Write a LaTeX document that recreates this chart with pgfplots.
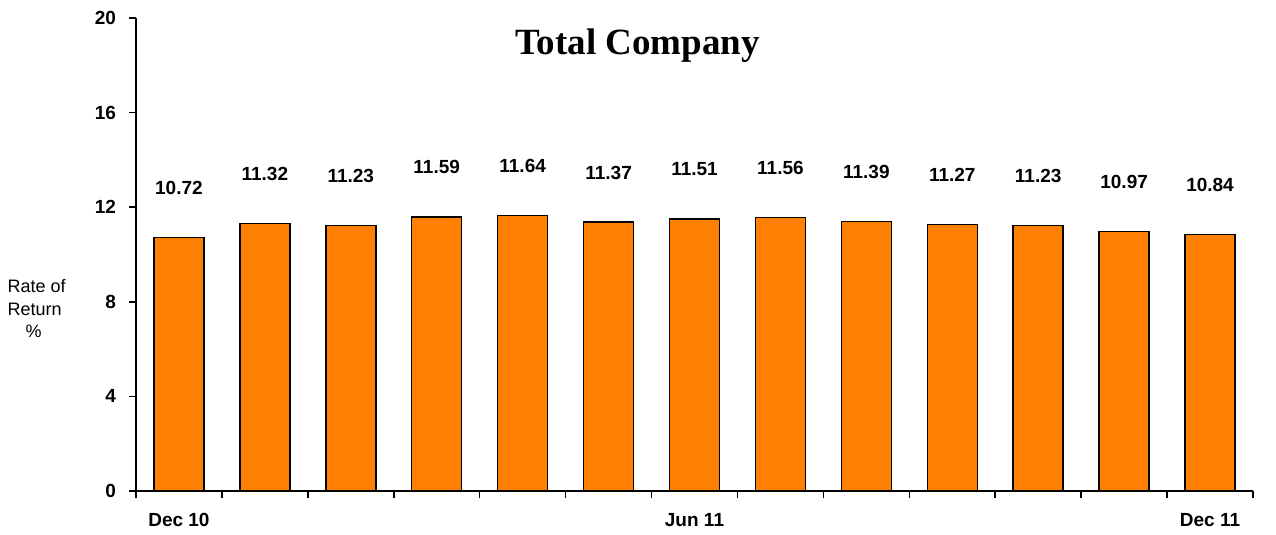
\documentclass[border=0pt]{standalone}
\usepackage{pgfplots}
\pgfplotsset{compat=1.18}
\usepackage{fontspec}
\setmainfont{Liberation Sans}
\newfontfamily\titlefont{Liberation Serif}
\definecolor{baror}{RGB}{255,128,0}

\begin{document}
\begin{tikzpicture}
\begin{axis}[
    scale only axis,
    width=558.5pt, height=236.5pt,
    xmin=-0.5, xmax=12.5,
    ymin=0, ymax=20,
    axis lines=left,
    axis line style={-, line width=1pt},
    tick align=outside,
    major tick length=3.5pt,
    minor tick length=3.5pt,
    tick style={black, line width=0.8pt},
    ytick={0,4,...,20},
    xtick={0,6,12},
    xticklabels={Dec 10, Jun 11, Dec 11},
    minor xtick={-0.5,0.5,...,12.5},
    x tick style={draw=none},
    minor x tick style={draw=black, line width=0.8pt},
    /pgf/number format/assume math mode=true,
    ticklabel style={font=\fontsize{9.5}{11}\selectfont\bfseries},
    yticklabel style={xshift=-3pt},
    xticklabel style={yshift=-4pt},
    title={Total Company},
    title style={font=\titlefont\fontsize{18.5}{20}\selectfont\bfseries,
        at={(axis description cs:0.449,0.917)}, anchor=center},
    ylabel={Rate of\\Return\\\hspace*{9pt}\%},
    ylabel style={rotate=-90, align=left, font=\fontsize{9}{11.25}\selectfont,
        at={(axis description cs:-0.089,0.385)}, anchor=center},
    ybar, bar width=25pt,
    nodes near coords,
    every node near coord/.append style={
        font=\fontsize{9.5}{11}\selectfont\bfseries,
        /pgf/number format/fixed,
        /pgf/number format/fixed zerofill,
        /pgf/number format/precision=2,
        /pgf/number format/assume math mode=true,
        anchor=south, inner sep=0pt, yshift=21pt},
]
\addplot[fill=baror, draw=black, line width=0.75pt] coordinates {
    (0,10.72) (1,11.32) (2,11.23) (3,11.59) (4,11.64) (5,11.37) (6,11.51)
    (7,11.56) (8,11.39) (9,11.27) (10,11.23) (11,10.97) (12,10.84)};
\end{axis}
\useasboundingbox (-68pt,-22pt) rectangle (570pt,245.5pt);
\end{tikzpicture}
\end{document}
